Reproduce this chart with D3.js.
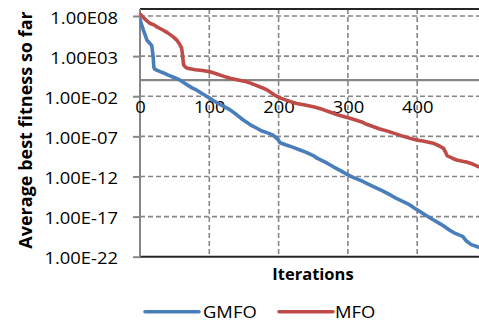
<!DOCTYPE html>
<html>
<head>
<meta charset="utf-8">
<script src="https://cdn.jsdelivr.net/npm/d3@7"></script>
<style>
  html, body { margin: 0; padding: 0; background: #fff; }
  svg { display: block; }
  text { font-family: "Open Sans", "Liberation Sans", sans-serif; fill: #000; }
</style>
</head>
<body>
<svg id="chart" width="479" height="324"></svg>
<script>
// Average best fitness so far per iteration (log-scale values)
const gmfoIter = [0, 2, 5, 8, 10, 13, 15, 17, 18, 19, 20, 21, 24, 30, 34, 40, 50, 58, 65, 75, 82, 90, 100, 105, 115, 125, 130, 140, 149, 155, 160, 170, 175, 185, 192, 198, 200, 202, 210, 220, 231, 240, 250, 255, 260, 270, 279, 290, 300, 310, 320, 327, 340, 350, 361, 370, 385, 392, 399, 410, 423, 435, 447, 455, 462, 466, 471, 478, 485, 490, 499];
const gmfoBest = [4.0e7, 1.0e7, 1.6e6, 3.2e5, 1.0e5, 5.0e4, 3.2e4, 2.0e4, 4.0e3, 7.9e2, 40, 25, 18, 11, 7.9, 4.5, 2.0, 1.0, 0.40, 0.11, 5.6e-2, 2.0e-2, 6.3e-3, 3.2e-3, 1.0e-3, 3.5e-4, 2.0e-4, 4.5e-5, 1.1e-5, 5.0e-6, 2.5e-6, 8.9e-7, 5.0e-7, 2.5e-7, 1.4e-7, 5.0e-8, 3.2e-8, 1.6e-8, 8.9e-9, 4.5e-9, 2.0e-9, 1.0e-9, 4.0e-10, 2.0e-10, 1.26e-10, 4.5e-11, 1.6e-11, 5.0e-12, 1.6e-12, 6.3e-13, 2.8e-13, 1.4e-13, 4.0e-14, 1.6e-14, 5.0e-15, 1.8e-15, 4.5e-16, 2.0e-16, 7.9e-17, 2.0e-17, 4.0e-18, 1.0e-18, 2.0e-19, 7.9e-20, 4.5e-20, 3.2e-20, 8.9e-21, 3.2e-21, 2.0e-21, 1.4e-21, 1.0e-21];

const mfoIter = [0, 5, 10, 14, 20, 25, 33, 40, 48, 53, 57, 60, 61, 62, 63, 66, 70, 80, 90, 101, 110, 120, 130, 140, 154, 165, 178, 185, 195, 202, 210, 220, 226, 238, 250, 262, 274, 285, 295, 303, 320, 327, 345, 357, 366, 380, 390, 399, 410, 423, 432, 438, 441, 443, 450, 457, 465, 471, 480, 489, 499];
const mfoBest = [1.8e8, 6.3e7, 2.5e7, 1.26e7, 7.9e6, 4.0e6, 1.8e6, 7.9e5, 2.5e5, 1.0e5, 3.2e4, 1.0e4, 2.5e3, 4.0e2, 79, 40, 28, 20, 16, 11, 6.3, 3.2, 1.7, 1.1, 0.63, 0.28, 0.10, 5.0e-2, 1.26e-2, 6.3e-3, 3.5e-3, 1.8e-3, 1.26e-3, 7.9e-4, 5.0e-4, 2.5e-4, 1.1e-4, 5.0e-5, 2.8e-5, 1.8e-5, 6.3e-6, 3.2e-6, 8.9e-7, 4.5e-7, 2.5e-7, 1.0e-7, 5.6e-8, 3.5e-8, 2.5e-8, 1.4e-8, 6.3e-9, 3.2e-9, 1.0e-9, 4.0e-10, 2.0e-10, 1.1e-10, 7.9e-11, 6.3e-11, 3.5e-11, 1.6e-11, 1.0e-11];

const seriesNames = ["GMFO", "MFO"];
const seriesColors = ["#4A7EBB", "#BE4B48"];

const yTickValues = [1e-22, 1e-17, 1e-12, 1e-7, 1e-2, 1e3, 1e8];
const yTickLabels = ["1.00E-22", "1.00E-17", "1.00E-12", "1.00E-07", "1.00E-02", "1.00E03", "1.00E08"];
const xTickValues = [0, 100, 200, 300, 400];
const xTickLabels = ["0", "100", "200", "300", "400"];

const xTitle = "Iterations";
const yTitle = "Average best fitness so far";

// ---- layout ----
const plotLeft = 140, plotRight = 486.5, plotTop = 9, plotBottom = 256.7;
const gridColor = "#878787";
const frameColor = "#262626";
const textStretch = 1.15;

const svg = d3.select("#chart");

const x = d3.scaleLinear().domain([0, 500]).range([plotLeft, plotRight]);
const y = d3.scaleLog().domain([1e-22, 1e8]).range([plotBottom, 16]);

// horizontal dashed gridlines (with short solid tick marks left of the axis)
const yAxis = d3.axisLeft(y)
  .tickValues(yTickValues)
  .tickSize(7)
  .tickFormat("");
const gy = svg.append("g")
  .attr("transform", `translate(${plotLeft},0)`)
  .call(yAxis);
gy.select(".domain").remove();
gy.selectAll(".tick line").attr("stroke", gridColor).attr("stroke-width", 2);

svg.append("g").selectAll("line")
  .data(yTickValues.filter(v => v > 1e-22))
  .join("line")
  .attr("x1", plotLeft).attr("x2", plotRight)
  .attr("y1", d => y(d)).attr("y2", d => y(d))
  .attr("stroke", gridColor).attr("stroke-width", 1.6)
  .attr("stroke-dasharray", "5,3");

// vertical dashed gridlines
svg.append("g").selectAll("line")
  .data(xTickValues.filter(v => v > 0))
  .join("line")
  .attr("x1", d => x(d)).attr("x2", d => x(d))
  .attr("y1", plotTop).attr("y2", plotBottom)
  .attr("stroke", gridColor).attr("stroke-width", 1.6)
  .attr("stroke-dasharray", "5,3");

// frame: dark top and bottom edges
svg.append("line")
  .attr("x1", plotLeft).attr("x2", plotRight)
  .attr("y1", plotTop).attr("y2", plotTop)
  .attr("stroke", frameColor).attr("stroke-width", 2);
svg.append("line")
  .attr("x1", plotLeft).attr("x2", plotRight)
  .attr("y1", plotBottom).attr("y2", plotBottom)
  .attr("stroke", frameColor).attr("stroke-width", 2);

// value axis (left) and category axis crossing at 1
svg.append("line")
  .attr("x1", plotLeft).attr("x2", plotLeft)
  .attr("y1", plotTop).attr("y2", plotBottom)
  .attr("stroke", gridColor).attr("stroke-width", 2);

const xAxis = d3.axisBottom(x).tickValues(xTickValues).tickSize(0).tickFormat("");
const gx = svg.append("g")
  .attr("transform", `translate(0,${y(1)})`)
  .call(xAxis);
gx.select(".domain")
  .attr("d", `M${plotLeft},0H${plotRight}`)
  .attr("stroke", gridColor).attr("stroke-width", 2.2);

// y tick labels
svg.append("g").selectAll("text")
  .data(yTickValues)
  .join("text")
  .attr("transform", d => `translate(118,${y(d) + 7.6}) scale(${textStretch},1)`)
  .attr("text-anchor", "end")
  .attr("font-size", 16)
  .text((d, i) => yTickLabels[i]);

// x tick labels
svg.append("g").selectAll("text")
  .data(xTickValues)
  .join("text")
  .attr("transform", d => `translate(${x(d) + 0.5},${y(1) + 32.5}) scale(${textStretch},1)`)
  .attr("text-anchor", "middle")
  .attr("font-size", 16)
  .text((d, i) => xTickLabels[i]);

// series lines
const line = d3.line()
  .x(d => x(d[0]))
  .y(d => y(d[1]));

const series = [
  d3.zip(gmfoIter, gmfoBest),
  d3.zip(mfoIter, mfoBest)
];

svg.append("defs").append("clipPath").attr("id", "plotClip")
  .append("rect")
  .attr("x", plotLeft).attr("y", plotTop)
  .attr("width", plotRight - plotLeft).attr("height", plotBottom - plotTop);

svg.append("g").attr("clip-path", "url(#plotClip)")
  .selectAll("path")
  .data(series)
  .join("path")
  .attr("d", line)
  .attr("fill", "none")
  .attr("stroke", (d, i) => seriesColors[i])
  .attr("stroke-width", 3.6)
  .attr("stroke-linejoin", "round")
  .attr("stroke-linecap", "round");

// axis titles
svg.append("text")
  .attr("x", 313).attr("y", 280)
  .attr("text-anchor", "middle")
  .attr("font-size", 16.5)
  .attr("font-weight", "bold")
  .text(xTitle);

svg.append("text")
  .attr("transform", `translate(32,130) rotate(-90)`)
  .attr("text-anchor", "middle")
  .attr("font-size", 18)
  .attr("font-weight", "bold")
  .text(yTitle);

// legend
const legendItems = [
  { x1: 145, x2: 199, tx: 203 },
  { x1: 279, x2: 333, tx: 335 }
];
const lg = svg.append("g");
legendItems.forEach((p, i) => {
  lg.append("line")
    .attr("x1", p.x1).attr("x2", p.x2)
    .attr("y1", 311.7).attr("y2", 311.7)
    .attr("stroke", seriesColors[i])
    .attr("stroke-width", 3.6)
    .attr("stroke-linecap", "round");
  lg.append("text")
    .attr("transform", `translate(${p.tx},317.5) scale(${textStretch},1)`)
    .attr("font-size", 16)
    .text(seriesNames[i]);
});
</script>
</body>
</html>
